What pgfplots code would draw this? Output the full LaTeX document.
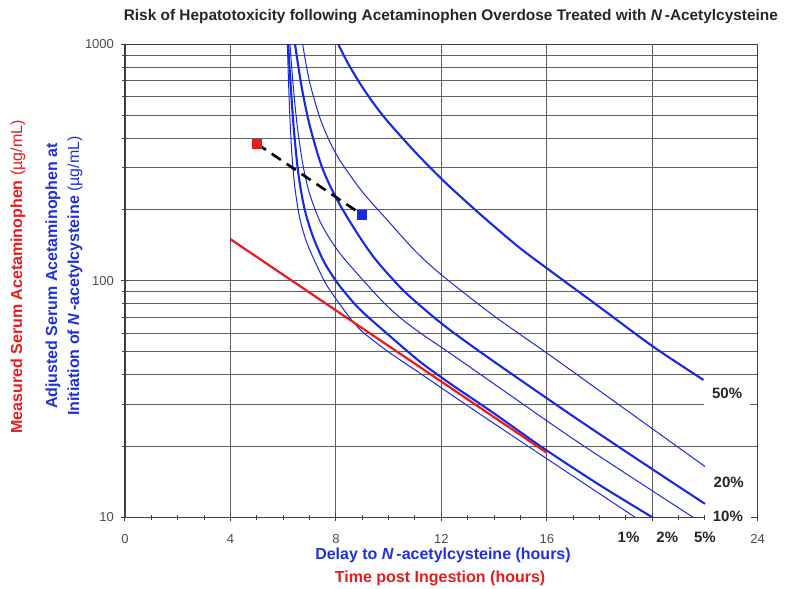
\documentclass[border=0pt]{standalone}
\usepackage{fontspec}
\setmainfont{Liberation Sans}
\usepackage{pgfplots}
\pgfplotsset{compat=1.18}

\definecolor{curveblue}{RGB}{25,40,225}
\definecolor{linered}{RGB}{232,28,28}
\definecolor{labelblue}{RGB}{32,50,215}
\definecolor{gridgray}{RGB}{95,95,95}
\tikzset{
  pct/.style={font=\fontsize{7.5}{9}\selectfont\bfseries, text=black!85},
  lthin/.style={curveblue, line width=0.5pt, smooth},
  lthick/.style={curveblue, line width=1.05pt, smooth},
}

\begin{document}
\begin{tikzpicture}
\path[use as bounding box] (-62.5pt,-35.35pt) rectangle (330pt,258.65pt);
\begin{axis}[
  at={(0,0)}, anchor=south west,
  scale only axis, width=316.35pt, height=236.5pt,
  xmin=0, xmax=24, ymin=10, ymax=1000, ymode=log,
  xtick={0,4,...,24}, xticklabels={0,4,8,12,16,,24},
  minor x tick num=3,
  ytick={10,100,1000}, yticklabels={10,100,1000},
  minor ytick={20,30,40,50,60,70,80,90,200,300,400,500,600,700,800,900},
  xmajorgrids, ymajorgrids, yminorgrids,
  grid style={gridgray, line width=0.5pt},
  minor grid style={gridgray, line width=0.5pt},
  axis line style={black!75, line width=0.6pt},
  tick pos=left, tick align=center,
  major tick length=4pt, minor tick length=2.5pt,
  tick style={black!75, line width=0.5pt},
  tick label style={font=\fontsize{6.5}{7}\selectfont, text=black!70},
  xticklabel style={yshift=-3pt},
  clip mode=individual,
]
% 1% (thin)
\addplot[lthin] coordinates {(6.13,1300) (6.16,1000) (6.2,708) (6.26,479) (6.34,331) (6.45,245) (6.62,186) (6.85,150) (7.14,125) (7.6,98) (8,84) (8.5,70.5) (9,61) (10,50) (11.2,40.6) (13,29.6) (15.4,19.6) (19.35,10) (19.6,9.6)};
% 2% (thick)
\addplot[lthick] coordinates {(6.16,1300) (6.19,1000) (6.3,631) (6.42,417) (6.58,282) (6.8,204) (7.1,157) (7.52,122) (8,100) (8.5,85) (9,74) (10,59) (11.19,45.5) (12.33,36.8) (14,27.5) (15.87,19.6) (18,13.7) (20,10) (20.2,9.65)};
% 5% (thin)
\addplot[lthin] coordinates {(6.22,1300) (6.26,1000) (6.4,631) (6.55,437) (6.75,309) (7,234) (7.4,178) (7.9,143) (8.41,120.5) (9.67,84) (10.4,70.4) (11.19,60.3) (12.33,49.4) (14.5,33.5) (16.88,21.9) (19.2,14.8) (21.55,10) (21.8,9.6)};
% 10% (thick)
\addplot[lthick] coordinates {(6.4,1130) (6.45,1000) (6.7,661) (7,457) (7.46,305) (8,225) (8.7,166) (9.48,124) (10.5,92.4) (11.4,75.1) (12.33,61.9) (14,45.5) (16.88,27.3) (19.5,17.4) (22,11.4)};
% 20% (thin)
\addplot[lthin] coordinates {(6.6,1325) (6.74,1000) (7,695) (7.4,486) (7.8,381) (8.2,317) (9,238) (10,178) (11,134) (12,106) (14,71) (16,49.5) (19,28.5) (22,16.4)};
% 50% (thick)
\addplot[lthick] coordinates {(7.9,1114) (8.09,1000) (8.5,815) (9,660) (9.5,549) (10,467) (11,351) (12,270) (13,213) (14,170) (15,137) (16,113) (18,77.5) (20,53) (21.94,38.1)};
% treatment line
\addplot[linered, line width=1.1pt] coordinates {(4,150) (8,75) (12,37.5) (16,18.75)};
% measured -> adjusted
\addplot[black, line width=1.3pt, dash pattern=on 5.5pt off 3.5pt] coordinates {(5,380) (9,190)};
\addplot[only marks, mark=square*, mark size=2.3pt, linered] coordinates {(5,380)};
\addplot[only marks, mark=square*, mark size=2.3pt, curveblue] coordinates {(9,190)};

\node[pct, fill=white, inner xsep=4pt, minimum height=12.5pt] at (axis cs:22.84,33.5) {50\%};
\node[pct, fill=white, inner xsep=4pt] at (axis cs:22.9,14) {20\%};
\node[pct, fill=white, inner xsep=4pt, inner ysep=1.5pt] at (axis cs:22.87,10.1) {10\%};
\node[pct] at (axis cs:19.1,8.25) {1\%};
\node[pct] at (axis cs:20.57,8.25) {2\%};
\node[pct] at (axis cs:22.0,8.25) {5\%};

\node[font=\fontsize{7.7}{9}\selectfont\bfseries, text=black!85] at (axis description cs:0.515,1.0577)
  {Risk of Hepatotoxicity following Acetaminophen Overdose Treated with \textit{N}\,-Acetylcysteine};
\node[font=\fontsize{8}{9.6}\selectfont\bfseries, text=labelblue] at (axis description cs:0.5026,-0.0797)
  {Delay to \textit{N}\,-acetylcysteine (hours)};
\node[font=\fontsize{8}{9.6}\selectfont\bfseries, text=linered] at (axis description cs:0.498,-0.1283)
  {Time post Ingestion (hours)};
\node[rotate=90, font=\fontsize{8}{9.6}\selectfont\bfseries, text=linered] at (axis description cs:-0.1691,0.508)
  {Measured Serum Acetaminophen {\mdseries (µg/mL)}};
\node[rotate=90, align=center, font=\fontsize{8}{11}\selectfont\bfseries, text=labelblue] at (axis description cs:-0.0964,0.51)
  {Adjusted Serum Acetaminophen at\\Initiation of \textit{N}\,-acetylcysteine {\mdseries (µg/mL)}};
\end{axis}
\end{tikzpicture}
\end{document}
